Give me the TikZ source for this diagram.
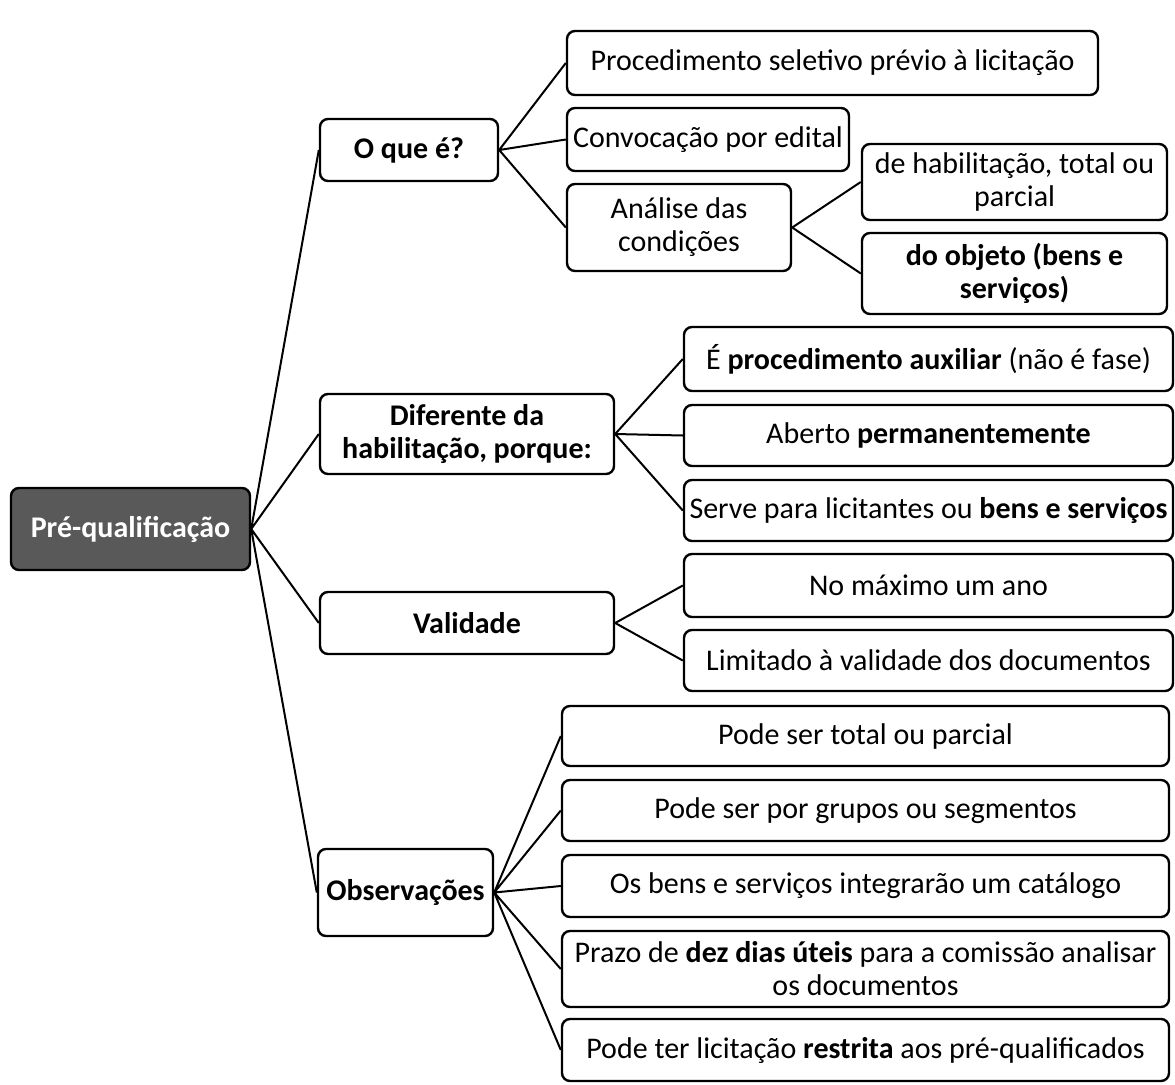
\documentclass[tikz,border=0pt]{standalone}
\usepackage{fontspec}
\setmainfont{Carlito}
\usetikzlibrary{positioning}
\definecolor{rootgray}{HTML}{595959}

\begin{document}
\begin{tikzpicture}[x=1pt, y=-1pt,
  every node/.style={draw, line width=2.4pt, rounded corners=8pt, align=center, inner sep=3pt,
    font=\fontsize{30}{33}\selectfont},
  rootbox/.style={fill=rootgray, text=white, font=\fontsize{30}{33}\selectfont\bfseries},
  topic/.style={font=\fontsize{30}{33}\selectfont\bfseries},
  link/.style={line width=2pt}]
\useasboundingbox (0,0) rectangle (1175,1084);
% root and first level
\node[rootbox, minimum width=239pt, minimum height=82pt] (root) at (130.5,529) {Pré-qualificação};
\node[topic, minimum width=178pt, minimum height=62pt] (oque) at (409,150) {O que é?};
\node[topic, minimum width=294pt, minimum height=80pt] (dif) at (467,434) {Diferente da\\habilitação, porque:};
\node[topic, minimum width=294pt, minimum height=62pt] (val) at (467,623) {Validade};
\node[topic, minimum width=175pt, minimum height=87pt] (obs) at (405.5,892.5) {Observações};
% O que e?
\node[minimum width=531pt, minimum height=64pt] (proc) at (832.5,63) {Procedimento seletivo prévio à licitação};
\node[minimum width=282pt, minimum height=63pt] (conv) at (708,139.5) {Convocação por edital};
\node[minimum width=224pt, minimum height=87pt] (anal) at (679,227.5) {Análise das\\condições};
\node[minimum width=305pt, minimum height=76pt] (hab) at (1014.5,182) {de habilitação, total ou\\parcial};
\node[minimum width=305pt, minimum height=81pt] (obj) at (1014.5,273.5) {\textbf{do objeto (bens e}\\\textbf{serviços)}};
% Diferente da habilitacao
\node[minimum width=489pt, minimum height=64pt] (aux) at (928.5,359) {É \textbf{procedimento auxiliar} (não é fase)};
\node[minimum width=489pt, minimum height=61pt] (aberto) at (928.5,435.5) {Aberto \textbf{permanentemente}};
\node[minimum width=489pt, minimum height=61pt] (serve) at (928.5,510.5) {Serve para licitantes ou \textbf{bens e serviços}};
% Validade
\node[minimum width=489pt, minimum height=63pt] (maximo) at (928.5,585.5) {No máximo um ano};
\node[minimum width=489pt, minimum height=61pt] (limite) at (928.5,660.5) {Limitado à validade dos documentos};
% Observacoes
\node[minimum width=607pt, minimum height=60pt] (total) at (865.5,736) {Pode ser total ou parcial};
\node[minimum width=607pt, minimum height=61pt] (grupos) at (865.5,810.5) {Pode ser por grupos ou segmentos};
\node[minimum width=607pt, minimum height=62pt] (bens) at (865.5,886) {Os bens e serviços integrarão um catálogo};
\node[minimum width=607pt, minimum height=76pt] (prazo) at (865.5,969) {Prazo de \textbf{dez dias úteis} para a comissão analisar\\os documentos};
\node[minimum width=607pt, minimum height=62pt] (restrita) at (865.5,1050) {Pode ter licitação \textbf{restrita} aos pré-qualificados};
% connectors
\draw[link] (root.east) -- (oque.west) (root.east) -- (dif.west)
  (root.east) -- (val.west) (root.east) -- (obs.west);
\draw[link] (oque.east) -- (proc.west) (oque.east) -- (conv.west) (oque.east) -- (anal.west);
\draw[link] (anal.east) -- (hab.west) (anal.east) -- (obj.west);
\draw[link] (dif.east) -- (aux.west) (dif.east) -- (aberto.west) (dif.east) -- (serve.west);
\draw[link] (val.east) -- (maximo.west) (val.east) -- (limite.west);
\draw[link] (obs.east) -- (total.west) (obs.east) -- (grupos.west) (obs.east) -- (bens.west)
  (obs.east) -- (prazo.west) (obs.east) -- (restrita.west);
\end{tikzpicture}
\end{document}
